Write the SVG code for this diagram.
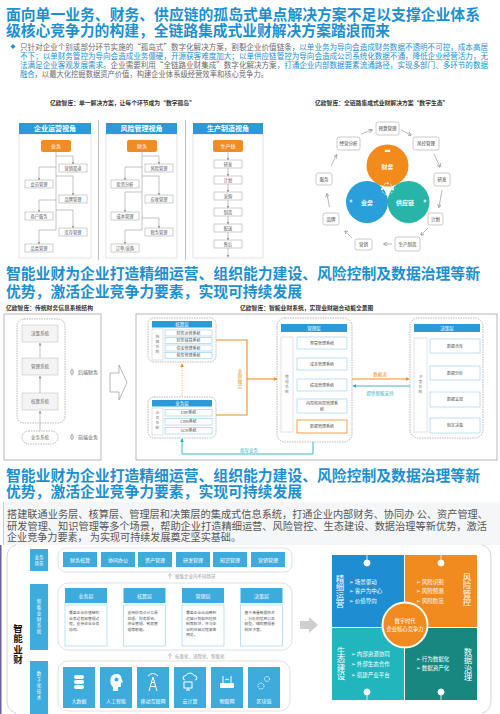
<svg xmlns="http://www.w3.org/2000/svg" width="500" height="714" viewBox="0 0 500 714">
<defs>
<style>
text{font-family:"Noto Sans CJK SC","Liberation Sans","DejaVu Sans",sans-serif;}
.v{writing-mode:vertical-rl;}
.t{font-size:14.8px;font-weight:bold;fill:#1c8fd0;}
.bp{font-size:7.5px;fill:#6a6a6a;}
.bl{fill:#1c8fd0;}
.cap{font-size:5.8px;fill:#333;font-weight:bold;}
.hdr{fill:#2a9ad8;}
.hdt{font-size:7px;fill:#fff;font-weight:bold;text-anchor:middle;}
.col{fill:#fff;stroke:#cfcfcf;stroke-width:0.6;}
.ob{fill:#f08c24;}
.obt{font-size:5px;fill:#fff;text-anchor:middle;}
.sb{fill:#fff;stroke:#9a9a9a;stroke-width:0.5;}
.sbt{font-size:4.2px;fill:#555;text-anchor:middle;}
.ln{fill:none;stroke:#9a9a9a;stroke-width:0.6;}
.rb{fill:#fff;stroke:#aaa;stroke-width:0.6;}
.rt{font-size:4.5px;fill:#444;text-anchor:middle;}
.dsh{fill:#fff;stroke:#8a8a8a;stroke-width:0.6;stroke-dasharray:1.5 1;}
.gb{fill:#f4f4f4;stroke:#bbb;stroke-width:0.5;}
.gt{font-size:4.5px;fill:#666;text-anchor:middle;}
.hb{fill:#2a9ad8;}
.ht{font-size:4.5px;fill:#fff;text-anchor:middle;}
.lb{fill:#fff;stroke:#c4c4c4;stroke-width:0.5;}
.lt{font-size:3.8px;fill:#888;letter-spacing:1.2px;writing-mode:vertical-rl;}
.sub{fill:#fff;stroke:#7cc0e6;stroke-width:0.5;}
.st{font-size:4px;fill:#555;text-anchor:middle;}
.p{font-size:10px;fill:#555;}
.bx{fill:#3eabdd;}
.bxt{font-size:5px;fill:#fff;text-anchor:middle;}
.bt{font-size:3.8px;fill:#555;}
.cont{fill:#fff;stroke:#d4d4d4;stroke-width:0.7;}
.qv{font-size:8.5px;fill:#fff;writing-mode:vertical-rl;}
.qb{font-size:5.5px;fill:#fff;}
.ic{fill:none;stroke:#fff;stroke-width:1;}
.icf{fill:#fff;}
</style>
<marker id="ag" viewBox="0 0 6 6" refX="5" refY="3" markerWidth="3" markerHeight="3" markerUnits="userSpaceOnUse" orient="auto"><path d="M0,0 L6,3 L0,6 Z" fill="#9a9a9a"/></marker>
<marker id="ag2" viewBox="0 0 6 6" refX="5" refY="3" markerWidth="4" markerHeight="4" markerUnits="userSpaceOnUse" orient="auto"><path d="M0,0 L6,3 L0,6" fill="none" stroke="#888" stroke-width="1"/></marker>
<marker id="ao" viewBox="0 0 6 6" refX="5" refY="3" markerWidth="4" markerHeight="4" markerUnits="userSpaceOnUse" orient="auto"><path d="M0,0 L6,3 L0,6 Z" fill="#f08c24"/></marker>
<marker id="at" viewBox="0 0 6 6" refX="5" refY="3" markerWidth="4" markerHeight="4" markerUnits="userSpaceOnUse" orient="auto"><path d="M0,0 L6,3 L0,6 Z" fill="#2ab0b8"/></marker>
</defs>
<rect x="0" y="0" width="500" height="714" fill="#fff"/>

<g id="title1">
<text class="t" x="6" y="20" textLength="474" lengthAdjust="spacingAndGlyphs">面向单一业务、财务、供应链的孤岛式单点解决方案不足以支撑企业体系</text>
<text class="t" x="6" y="35.5" textLength="384" lengthAdjust="spacingAndGlyphs">级核心竞争力的构建，全链路集成式业财解决方案踏浪而来</text>
</g>
<g id="bullet1">
<path d="M13,44 L15.5,46.5 L13,49 L10.5,46.5 Z" fill="#1c8fd0"/>
<text class="bp" x="20" y="49.5" textLength="468" lengthAdjust="spacingAndGlyphs">只针对企业个别或部分环节实施的“孤岛式”数字化解决方案，割裂企业价值链条，<tspan class="bl">以单业务为导向会造成财务数据不透明不可控，成本高居</tspan></text>
<text class="bp bl" x="20" y="58.7" textLength="468" lengthAdjust="spacingAndGlyphs">不下；以单财务管控为导向会造成业务僵硬，开源获客难度加大；以单供应链管控为导向会造成公司系统化数据不通，降低企业经营活力，无</text>
<text class="bp" x="20" y="68" textLength="468" lengthAdjust="spacingAndGlyphs"><tspan class="bl">法满足企业客观发展需求。</tspan>企业需要利用“全链路业财集成”数字化解决方案<tspan class="bl">，打通企业内部数据要素流通路径，实现多部门、多环节的数据</tspan></text>
<text class="bp" x="20" y="76.7" textLength="248" lengthAdjust="spacingAndGlyphs"><tspan class="bl">融合</tspan>，以最大化挖掘数据资产价值，构建企业体系级经营效率和核心竞争力。</text>
</g>

<text class="cap" x="50" y="104.5">亿欧智库：单一解决方案，让每个环节成为“数字孤岛”</text>
<line x1="98.5" y1="120" x2="98.5" y2="260" stroke="#bdbdbd" stroke-width="1"/>
<line x1="185.5" y1="120" x2="185.5" y2="260" stroke="#bdbdbd" stroke-width="1"/>

<g id="col1">
<rect class="col" x="19" y="134" width="72" height="124"/>
<rect class="hdr" x="19" y="123" width="72" height="11"/>
<text class="hdt" x="55" y="131">企业运营视角</text>
<rect class="ob" x="41" y="140" width="30" height="12" rx="2"/>
<text class="obt" x="56" y="147.8">业务</text>
<rect class="sb" x="59" y="164" width="28" height="8"/><text class="sbt" x="73" y="169.5">营销渠道</text>
<rect class="sb" x="25" y="180" width="28" height="8"/><text class="sbt" x="39" y="185.5">会员管理</text>
<rect class="sb" x="59" y="195" width="28" height="8"/><text class="sbt" x="73" y="200.5">品牌管理</text>
<rect class="sb" x="25" y="212" width="28" height="8"/><text class="sbt" x="39" y="217.5">商户服务</text>
<rect class="sb" x="59" y="228" width="28" height="8"/><text class="sbt" x="73" y="233.5">库存管理</text>
<rect class="sb" x="25" y="244" width="28" height="8"/><text class="sbt" x="39" y="249.5">品类管理</text>
</g>
<g id="col2">
<rect class="col" x="106" y="134" width="71" height="124"/>
<rect class="hdr" x="106" y="123" width="71" height="11"/>
<text class="hdt" x="141.5" y="131">风险管理视角</text>
<rect class="ob" x="127" y="140" width="30" height="12" rx="2"/>
<text class="obt" x="142" y="147.8">财务</text>
<rect class="sb" x="145" y="164" width="28" height="8"/><text class="sbt" x="159" y="169.5">风险管理</text>
<rect class="sb" x="111" y="180" width="28" height="8"/><text class="sbt" x="125" y="185.5">投资分析</text>
<rect class="sb" x="145" y="195" width="28" height="8"/><text class="sbt" x="159" y="200.5">应收管理</text>
<rect class="sb" x="111" y="212" width="28" height="8"/><text class="sbt" x="125" y="217.5">成本管理</text>
<rect class="sb" x="145" y="228" width="28" height="8"/><text class="sbt" x="159" y="233.5">税务管理</text>
<rect class="sb" x="111" y="244" width="28" height="8"/><text class="sbt" x="125" y="249.5">订单/采购</text>
</g>
<g id="col3">
<rect class="col" x="193" y="134" width="70" height="124"/>
<rect class="hdr" x="193" y="123" width="70" height="11"/>
<text class="hdt" x="228" y="131">生产制造视角</text>
<rect class="ob" x="213" y="140" width="30" height="12" rx="2"/>
<text class="obt" x="228" y="147.8">生产线</text>
<rect class="sb" x="214" y="160" width="28" height="8"/><text class="sbt" x="228" y="165.5">研发</text>
<rect class="sb" x="214" y="176" width="28" height="8"/><text class="sbt" x="228" y="181.5">计划</text>
<rect class="sb" x="214" y="192" width="28" height="8"/><text class="sbt" x="228" y="197.5">采购</text>
<rect class="sb" x="214" y="208" width="28" height="8"/><text class="sbt" x="228" y="213.5">制造</text>
<rect class="sb" x="214" y="224" width="28" height="8"/><text class="sbt" x="228" y="229.5">配送</text>
<rect class="sb" x="214" y="240" width="28" height="8"/><text class="sbt" x="228" y="245.5">售后</text>
</g>

<g id="connectors-top">
<path class="ln" d="M56 152 V230"/>
<path class="ln" d="M56 156 H73 V164" marker-end="url(#ag)"/>
<path class="ln" d="M56 167 H39 V180" marker-end="url(#ag)"/>
<path class="ln" d="M56 176 H73 V195" marker-end="url(#ag)"/>
<path class="ln" d="M56 200 H39 V212" marker-end="url(#ag)"/>
<path class="ln" d="M56 210 H73 V228" marker-end="url(#ag)"/>
<path class="ln" d="M56 230 H39 V244" marker-end="url(#ag)"/>
<path class="ln" d="M142 152 V230"/>
<path class="ln" d="M142 156 H159 V164" marker-end="url(#ag)"/>
<path class="ln" d="M142 167 H125 V180" marker-end="url(#ag)"/>
<path class="ln" d="M142 176 H159 V195" marker-end="url(#ag)"/>
<path class="ln" d="M142 192 H125 V212" marker-end="url(#ag)"/>
<path class="ln" d="M142 218 H159 V228" marker-end="url(#ag)"/>
<path class="ln" d="M142 230 H125 V244" marker-end="url(#ag)"/>
<path class="ln" d="M228 152 V160" marker-end="url(#ag)"/>
<path class="ln" d="M228 168 V176" marker-end="url(#ag)"/>
<path class="ln" d="M228 184 V192" marker-end="url(#ag)"/>
<path class="ln" d="M228 200 V208" marker-end="url(#ag)"/>
<path class="ln" d="M228 216 V224" marker-end="url(#ag)"/>
<path class="ln" d="M228 232 V240" marker-end="url(#ag)"/>
<path class="ln" d="M228 248 V257" marker-end="url(#ag)"/>
</g>

<text class="cap" x="315" y="105">亿欧智库：全链路集成式业财解决方案“数字生态”</text>
<g id="eco-circles">
<circle cx="387.5" cy="165.5" r="21" fill="#f28a1c"/>
<circle cx="367" cy="202" r="21" fill="#2b9fd9"/>
<circle cx="408.5" cy="202" r="21" fill="#26b5a8"/>
<circle cx="387.5" cy="189" r="5.7" fill="none" stroke="#fff" stroke-width="0.8" stroke-dasharray="2 1.2"/>
<circle cx="382" cy="189" r="1" fill="#fff"/><circle cx="393" cy="189" r="1" fill="#fff"/><circle cx="387.5" cy="183.3" r="1" fill="#fff"/><circle cx="387.5" cy="194.7" r="1" fill="#fff"/>
<path d="M384.5 152 L385.5 149 L387.5 150.5 L389.5 149 L390.5 152 Z" fill="#fff"/>
<path d="M349.5 201 H352.5 M351 199.5 V202.5" stroke="#fff" stroke-width="0.9"/>
<path d="M423.5 201 H426.5 M425 199.5 V202.5" stroke="#fff" stroke-width="0.9"/>
<text x="387.5" y="168.5" font-size="6" font-weight="bold" fill="#fff" text-anchor="middle">财务</text>
<text x="367" y="205" font-size="6" font-weight="bold" fill="#fff" text-anchor="middle">业务</text>
<text x="405" y="205" font-size="6" font-weight="bold" fill="#fff" text-anchor="middle">供应链</text>
</g>
<g id="eco-ring">
<rect class="rb" x="376" y="122" width="23" height="13" rx="2"/><text class="rt" x="387.5" y="130.2">预算管理</text>
<rect class="rb" x="413" y="137" width="26" height="13" rx="2"/><text class="rt" x="426" y="145.2">风控管理</text>
<rect class="rb" x="434" y="173" width="16" height="13" rx="2"/><text class="rt" x="442" y="181.2">研发</text>
<rect class="rb" x="428" y="213" width="15" height="12" rx="2"/><text class="rt" x="435.5" y="220.7">计划</text>
<rect class="rb" x="395" y="237" width="25" height="14" rx="2"/><text class="rt" x="407.5" y="245.7">生产制造</text>
<rect class="rb" x="355" y="239" width="17" height="11" rx="2"/><text class="rt" x="363.5" y="246.2">营销</text>
<rect class="rb" x="323" y="213" width="16" height="12" rx="2"/><text class="rt" x="331" y="220.7">品牌</text>
<rect class="rb" x="316" y="173" width="16" height="12" rx="2"/><text class="rt" x="324" y="180.7">服务</text>
<rect class="rb" x="337" y="137" width="23" height="13" rx="2"/><text class="rt" x="348.5" y="145.2">经营分析</text>
</g>
<g id="eco-arrows" fill="none" stroke="#888" stroke-width="0.6">
<path d="M361 134 L372 130" marker-end="url(#ag2)"/>
<path d="M401 130 L411 135" marker-end="url(#ag2)"/>
<path d="M434 154 L440 167" marker-end="url(#ag2)"/>
<path d="M442 190 L439 207" marker-end="url(#ag2)"/>
<path d="M428 228 L421 235" marker-end="url(#ag2)"/>
<path d="M392 244 L384 244" marker-end="url(#ag2)"/>
<path d="M352 238 L345 231" marker-end="url(#ag2)"/>
<path d="M329.5 207 L327 194" marker-end="url(#ag2)"/>
<path d="M331 166 L336.5 155" marker-end="url(#ag2)"/>
</g>

<g id="title2">
<text class="t" x="6" y="279" textLength="474" lengthAdjust="spacingAndGlyphs">智能业财为企业打造精细运营、组织能力建设、风险控制及数据治理等新</text>
<text class="t" x="6" y="297" textLength="296" lengthAdjust="spacingAndGlyphs">优势，激活企业竞争力要素，实现可持续发展</text>
</g>

<text class="cap" x="6" y="309.5">亿欧智库：传统财务信息系统结构</text>
<g id="trad">
<rect x="4" y="314" width="97" height="146" fill="#fff" stroke="#999" stroke-width="0.7"/>
<rect class="dsh" x="17" y="319" width="48" height="104" rx="7"/>
<rect class="gb" x="22" y="325" width="36" height="17"/><text class="gt" x="40" y="335">决策系统</text>
<rect class="gb" x="22" y="358" width="36" height="17"/><text class="gt" x="40" y="368">管理系统</text>
<rect class="gb" x="22" y="393" width="36" height="17"/><text class="gt" x="40" y="403">核算系统</text>
<rect class="dsh" x="22" y="431" width="36" height="13" rx="6.5"/><text class="gt" x="40" y="439">业务系统</text>
<path class="ln" d="M40 393 V376" marker-end="url(#ag)"/>
<path class="ln" d="M40 358 V343" marker-end="url(#ag)"/>
<path class="ln" d="M40 431 V411" marker-end="url(#ag)"/>
<ellipse cx="72" cy="372" rx="1.4" ry="2.3" fill="none" stroke="#888" stroke-width="0.6"/><line x1="72" y1="368.5" x2="72" y2="375.5" stroke="#888" stroke-width="0.5"/>
<text x="78" y="374" font-size="5" fill="#555">后端财务</text>
<ellipse cx="72" cy="437" rx="1.4" ry="2.3" fill="none" stroke="#888" stroke-width="0.6"/><line x1="72" y1="433.5" x2="72" y2="440.5" stroke="#888" stroke-width="0.5"/>
<text x="78" y="439" font-size="5" fill="#555">前端业务</text>
<polygon points="110,373 119,373 119,365 127,382.5 119,400 119,392 110,392" fill="#fff" stroke="#999" stroke-width="0.7"/>
</g>

<text class="cap" x="240" y="309.5">亿欧智库：智能业财系统，实现业财融合动能全景图</text>
<rect x="136" y="314" width="361" height="146" fill="#fff" stroke="#999" stroke-width="0.7"/>
<g id="hesuan">
<rect class="dsh" x="148" y="318" width="68" height="44" rx="6"/>
<rect class="hb" x="152" y="321" width="60" height="6.5"/><text class="ht" x="182" y="326">核算层</text>
<rect class="lb" x="152" y="329" width="11" height="31"/>
<text class="lt" x="157.5" y="334.5">核算系统</text>
<rect class="sub" x="165" y="330" width="47" height="6"/><text class="st" x="188.5" y="334.5">财务运营系统</text>
<rect class="sub" x="165" y="337.5" width="47" height="6"/><text class="st" x="188.5" y="342">财务核算系统</text>
<rect class="sub" x="165" y="345" width="47" height="6"/><text class="st" x="188.5" y="349.5">资金管理系统</text>
<rect class="sub" x="165" y="352.5" width="47" height="6"/><text class="st" x="188.5" y="357">税务管理系统</text>
</g>
<g id="yewu">
<rect class="dsh" x="148" y="397" width="68" height="41" rx="6"/>
<rect class="hb" x="152" y="400" width="60" height="6.5"/><text class="ht" x="182" y="405">业务层</text>
<rect class="lb" x="152" y="408" width="11" height="27"/>
<text class="lt" x="157.5" y="411">业务系统</text>
<rect class="sub" x="165" y="409.5" width="47" height="6.5"/><text class="st" x="188.5" y="414.3">ERP系统</text>
<rect class="sub" x="165" y="418.5" width="47" height="6.5"/><text class="st" x="188.5" y="423.3">CRM系统</text>
<rect class="sub" x="165" y="427.5" width="47" height="6.5"/><text class="st" x="188.5" y="432.3">SCM系统</text>
</g>
<g id="guanli">
<rect class="dsh" x="277" y="318" width="75" height="124" rx="8"/>
<rect class="hb" x="281" y="324" width="66" height="8"/><text class="ht" x="314" y="329.8">管理层</text>
<rect class="lb" x="281" y="337" width="12" height="95"/>
<text class="lt" x="287" y="375">管理系统</text>
<rect class="sub" x="297" y="337" width="50" height="12"/><text class="st" x="322" y="344.5">预算管理系统</text>
<rect class="sub" x="297" y="358" width="50" height="12"/><text class="st" x="322" y="365.5">成本管理系统</text>
<rect class="sub" x="297" y="379" width="50" height="12"/><text class="st" x="322" y="386.5">绩效管理系统</text>
<rect class="sub" x="297" y="399" width="50" height="14"/><text class="st" x="322" y="405">内控和风控管理系</text><text class="st" x="322" y="410.5">统</text>
<rect x="297" y="420" width="50" height="13" fill="#fff" stroke="#f08c24" stroke-width="0.8"/><text class="st" x="322" y="428">数据管理系统</text>
</g>
<g id="juece">
<rect class="dsh" x="410" y="318" width="73" height="120" rx="8"/>
<rect class="hb" x="414" y="324" width="66" height="8"/><text class="ht" x="447" y="329.8">决策层</text>
<rect class="lb" x="414" y="338" width="13" height="94"/>
<text class="lt" x="420.5" y="375">决策系统</text>
<rect class="sub" x="430" y="339" width="50" height="14"/><text class="st" x="455" y="347.5">数据仓库</text>
<rect class="sub" x="430" y="366" width="50" height="14"/><text class="st" x="455" y="374.5">数据分析</text>
<rect class="sub" x="430" y="392" width="50" height="15"/><text class="st" x="455" y="401">数据呈现</text>
<rect class="sub" x="430" y="418" width="50" height="15"/><text class="st" x="455" y="427">制定决策</text>
</g>
<g id="connectors-mid">
<path d="M182 396 V364" fill="none" stroke="#f0a050" stroke-width="0.8" stroke-dasharray="1 1.5" marker-end="url(#ao)"/>
<path d="M216 340 H247 V415 H216" fill="none" stroke="#f08c24" stroke-width="1.1"/>
<path d="M247 379 H277" fill="none" stroke="#f08c24" stroke-width="1.1" marker-end="url(#ao)"/>
<text class="v" x="240" y="369" font-size="4.5" fill="#f08c24" letter-spacing="0.6">业财融合</text>
<path d="M313 442 V454 H182 V439" fill="none" stroke="#2ab0b8" stroke-width="0.9" marker-end="url(#at)"/>
<text x="240" y="451.5" font-size="4.5" fill="#2ab0b8">指导业务</text>
<path d="M352 379 H409" fill="none" stroke="#f08c24" stroke-width="1.1" marker-end="url(#ao)"/>
<text x="380" y="376" font-size="4.5" fill="#f08c24" text-anchor="middle">数据流</text>
<path d="M410 386 H353" fill="none" stroke="#2ab0b8" stroke-width="0.9" marker-end="url(#at)"/>
<text x="380" y="394.5" font-size="4.5" fill="#2ab0b8" text-anchor="middle">提供智能支持</text>
</g>

<g id="title3">
<text class="t" x="6" y="480.5" textLength="474" lengthAdjust="spacingAndGlyphs">智能业财为企业打造精细运营、组织能力建设、风险控制及数据治理等新</text>
<text class="t" x="6" y="497" textLength="296" lengthAdjust="spacingAndGlyphs">优势，激活企业竞争力要素，实现可持续发展</text>
</g>
<g id="para3">
<rect x="3" y="502" width="497" height="43" fill="#f4f6f8"/>
<rect x="3" y="502" width="1" height="43" fill="#c8ccd2"/>
<text class="p" x="7" y="518" textLength="481" lengthAdjust="spacingAndGlyphs">搭建联通业务层、核算层、管理层和决策层的集成式信息系统，打通企业内部财务、协同办 公、资产管理、</text>
<text class="p" x="7" y="529.5" textLength="480" lengthAdjust="spacingAndGlyphs">研发管理、知识管理等多个场景，帮助企业打造精细运营、风险管控、生态建设、数据治理等新优势，激活</text>
<text class="p" x="7" y="541" textLength="234" lengthAdjust="spacingAndGlyphs">企业竞争力要素， 为实现可持续发展奠定坚实基础。</text>
</g>

<rect x="0" y="545" width="1.5" height="169" fill="#6c5fa0"/>
<path d="M16 545 Q7 547 7 558 V700 Q7 711 16 713" fill="none" stroke="#ccc" stroke-width="0.8"/>
<path d="M482 545 Q491 547 491 558 V700 Q491 711 482 713" fill="none" stroke="#ccc" stroke-width="0.8"/>
<text class="v" x="18" y="624" font-size="9.5" font-weight="bold" fill="#111" letter-spacing="0.6">智能业财</text>

<g id="side-labels">
<rect class="bx" x="30" y="549" width="18" height="22"/>
<text font-size="4.5" fill="#fff" text-anchor="middle" x="39" y="558.5">业务</text>
<text font-size="4.5" fill="#fff" text-anchor="middle" x="39" y="565">场景</text>
<rect class="bx" x="30" y="584" width="18" height="66"/>
<text class="v" x="39" y="599" font-size="4.5" fill="#fff" letter-spacing="1.5">智能业财系统</text>
<rect class="bx" x="30" y="661" width="18" height="53"/>
<text class="v" x="39" y="671" font-size="4.5" fill="#fff" letter-spacing="1.5">数字化技术</text>
</g>

<g id="row1">
<rect class="cont" x="58" y="548" width="234" height="24" rx="8"/>
<rect class="bx" x="63" y="552" width="34" height="15"/><text class="bxt" x="80" y="561.5">财务核算</text>
<rect class="bx" x="101" y="552" width="34" height="15"/><text class="bxt" x="118" y="561.5">协同办公</text>
<rect class="bx" x="138" y="552" width="34" height="15"/><text class="bxt" x="155" y="561.5">资产管理</text>
<rect class="bx" x="176" y="552" width="34" height="15"/><text class="bxt" x="193" y="561.5">研发管理</text>
<rect class="bx" x="213" y="552" width="34" height="15"/><text class="bxt" x="230" y="561.5">知识管理</text>
<rect class="bx" x="251" y="552" width="34" height="15"/><text class="bxt" x="268" y="561.5">营销管理</text>
</g>
<path d="M170 579 V574 M168.5 575.5 L170 573.5 L171.5 575.5" fill="none" stroke="#aaa" stroke-width="0.7"/>
<text x="175" y="577.5" font-size="4.5" fill="#999">赋能企业内不同场景</text>

<g id="row2">
<rect class="cont" x="58" y="583" width="234" height="67" rx="10"/>
<rect class="bx" x="65" y="588" width="42" height="15"/><text class="bxt" x="86" y="597.5">业务层</text>
<rect x="65" y="605" width="42" height="41" fill="#fff" stroke="#8fcbe8" stroke-width="0.6"/>
<text class="bt" x="69" y="614">覆盖企业价值链的</text><text class="bt" x="69" y="619.5">业务过程和管理过</text><text class="bt" x="69" y="625">程，支持企业业务</text><text class="bt" x="69" y="630.5">协同。</text>
<rect class="bx" x="123.5" y="588" width="42" height="15"/><text class="bxt" x="144.5" y="597.5">核算层</text>
<rect x="123.5" y="605" width="42" height="41" fill="#fff" stroke="#8fcbe8" stroke-width="0.6"/>
<text class="bt" x="127.5" y="614">支持财务会计交易</text><text class="bt" x="127.5" y="619.5">处理、财务报告、</text><text class="bt" x="127.5" y="625">资金管理、税务管</text><text class="bt" x="127.5" y="630.5">理等职能。</text>
<rect class="bx" x="182" y="588" width="42" height="15"/><text class="bxt" x="203" y="597.5">管理层</text>
<rect x="182" y="605" width="42" height="41" fill="#fff" stroke="#8fcbe8" stroke-width="0.6"/>
<text class="bt" x="186" y="614">覆盖企业从战略到</text><text class="bt" x="186" y="619.5">运营计划和风险控</text><text class="bt" x="186" y="625">制等模块，并与企</text><text class="bt" x="186" y="630.5">业的经营过程紧密</text><text class="bt" x="186" y="636">相关。</text>
<rect class="bx" x="240.5" y="588" width="42" height="15"/><text class="bxt" x="261.5" y="597.5">决策层</text>
<rect x="240.5" y="605" width="42" height="41" fill="#fff" stroke="#8fcbe8" stroke-width="0.6"/>
<text class="bt" x="244.5" y="614">基于海量数据技术</text><text class="bt" x="244.5" y="619.5">，分析的信息以及</text><text class="bt" x="244.5" y="625">模型，辅助管理者</text><text class="bt" x="244.5" y="630.5">制定决策。</text>
</g>
<path d="M170 659 V654 M168.5 655.5 L170 653.5 L171.5 655.5" fill="none" stroke="#aaa" stroke-width="0.7"/>
<text x="175" y="657.5" font-size="4.5" fill="#999">标准化、流程化、智能化</text>

<g id="row3">
<rect class="cont" x="58" y="661" width="232" height="50" rx="10"/>
<rect class="bx" x="63" y="667" width="32" height="41"/>
<rect class="bx" x="100" y="667" width="32" height="41"/>
<rect class="bx" x="137" y="667" width="32" height="41"/>
<rect class="bx" x="174" y="667" width="32" height="41"/>
<rect class="bx" x="211" y="667" width="32" height="41"/>
<rect class="bx" x="248" y="667" width="32" height="41"/>
<text class="bxt" x="79" y="703">大数据</text>
<text class="bxt" x="116" y="703">人工智能</text>
<text class="bxt" x="153" y="703" font-size="4">移动互联网</text>
<text class="bxt" x="190" y="703">云计算</text>
<text class="bxt" x="227" y="703">物联网</text>
<text class="bxt" x="264" y="703">区块链</text>
<rect class="icf" x="74" y="675" width="10" height="4" rx="2"/>
<rect class="icf" x="74" y="680" width="10" height="4" rx="2"/>
<rect class="icf" x="74" y="685" width="10" height="4" rx="2"/>
<path class="icf" d="M113 691 V687 Q109.5 684 110.5 679 Q111.5 674 116.5 674 Q121.5 674 121.5 679 L123 682.5 H121 V687 H118 V691 Z"/>
<circle cx="116.5" cy="679.5" r="2" fill="#3eabdd"/>
<path class="ic" d="M149 691 L153 677 L157 691 M150.2 686.5 H155.8 M151.3 682.5 H154.7 M148 676 Q153 671 158 676" stroke-width="0.8"/>
<path class="ic" d="M185 680 Q183 680 183 678 Q183 675.5 186 675.5 Q187 673 190 673 Q193 673 194 675.5 Q197 675.5 197 678 Q197 680 195 680" stroke-width="0.8"/>
<rect class="ic" x="184" y="682" width="8" height="6" stroke-width="0.8"/>
<path class="ic" d="M188 688 V690 M186 690 H190" stroke-width="0.8"/>
<rect class="icf" x="220" y="683" width="14" height="5" rx="1"/>
<path class="ic" d="M223 683 V676 M231 683 V676 M225 680 Q227 678 229 680" stroke-width="0.8"/>
<circle class="ic" cx="261" cy="686" r="3" stroke-width="1.4" stroke-dasharray="1.2 0.8"/>
<circle class="ic" cx="267" cy="679" r="2.5" stroke-width="1.4" stroke-dasharray="1.2 0.8"/>
</g>

<polygon id="chevron" points="300,621 309,621 309,617 318,625 309,633 309,629 300,629" fill="#cfcfcf"/>

<g id="quad">
<rect x="332" y="555" width="72" height="72" fill="#1e8dd2"/>
<rect x="405" y="555" width="72" height="72" fill="#f28b1f"/>
<rect x="332" y="628" width="72" height="72" fill="#21b6bd"/>
<rect x="405" y="628" width="72" height="72" fill="#18877f"/>
<g fill="#fff" stroke="#fff">
<line x1="367" y1="555" x2="367" y2="561" stroke-width="0.8"/><circle cx="367" cy="563" r="3"/>
<line x1="441" y1="555" x2="441" y2="561" stroke-width="0.8"/><circle cx="441" cy="563" r="3"/>
<line x1="367" y1="700" x2="367" y2="694" stroke-width="0.8"/><circle cx="367" cy="692" r="3"/>
<line x1="441" y1="700" x2="441" y2="694" stroke-width="0.8"/><circle cx="441" cy="692" r="3"/>
</g>
<text class="qv" x="340" y="574.5">精细运营</text>
<text class="qb" x="349" y="583.5">➢  场景驱动</text>
<text class="qb" x="349" y="593">➢  客户为中心</text>
<text class="qb" x="349" y="602.5">➢  价值导向</text>
<text class="qv" x="467" y="572.5">风险管控</text>
<text class="qb" x="416" y="583.5">➢  风险识别</text>
<text class="qb" x="416" y="593">➢  风险预测</text>
<text class="qb" x="416" y="602.5">➢  风险防范</text>
<text class="qv" x="341" y="646.5">生态建设</text>
<text class="qb" x="351" y="656">➢  内部资源协同</text>
<text class="qb" x="351" y="666">➢  外部生态合作</text>
<text class="qb" x="351" y="676.5">➢  搭建产业平台</text>
<text class="qv" x="468" y="647.5">数据治理</text>
<text class="qb" x="416" y="661">➢  行为数据化</text>
<text class="qb" x="416" y="670">➢  数据资产化</text>
<circle cx="405" cy="625" r="22.5" fill="#f28b1f" stroke="#fff" stroke-width="2"/>
<text x="405" y="623" font-size="5.3" fill="#fff" text-anchor="middle">数字时代</text>
<text x="405" y="631" font-size="5.3" fill="#fff" text-anchor="middle">企业核心竞争力</text>
</g>
</svg>
